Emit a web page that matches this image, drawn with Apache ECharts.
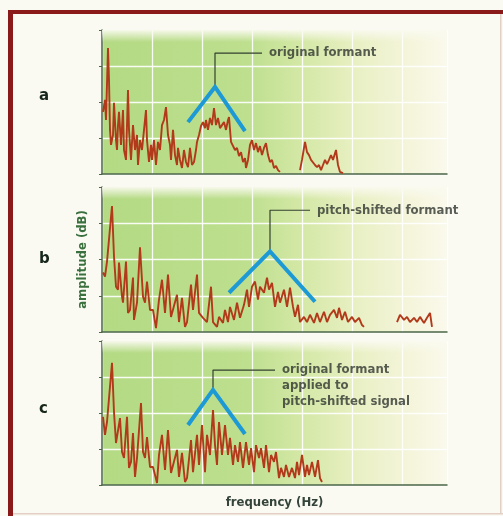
<!DOCTYPE html>
<html><head><meta charset="utf-8">
<script src="https://cdn.jsdelivr.net/npm/echarts@6/dist/echarts.min.js"></script>
<style>html,body{margin:0;padding:0;background:#fbfaf2;}#c{width:503px;height:516px;}</style>
</head><body><div id="c"></div>
<script>
// ---- data (frequency in Hz, amplitude in dB) ----
const panelLabels = ['a', 'b', 'c'];
const yAxisName = 'amplitude (dB)';
const xAxisName = 'frequency (Hz)';
const annotA = 'original formant';
const annotB = 'pitch-shifted formant';
const annotC = 'original formant\napplied to\npitch-shifted signal';

const freqA = [10,30,40,60,70,80,90,110,120,140,150,160,170,190,210,220,240,260,270,290,310,330,350,360,380,400,420,440,450,470,490,500,520,540,560,580,600,620,640,660,680,690,710,730,750,760,780,800,820,840,860,880,900,920,940,950,970,990,1010,1030,1040,1060,1080,1100,1120,1140,1160,1180,1200,1220,1240,1260,1270,1290,1310,1330,1350,1370,1390,1410,1430,1440,1460,1480,1500,1520,1540,1560,1580,1600,1620,1640,1660,1680,1700,1720,1740,1760,1780,1880,1980,2000,2030,2050,2070,2090,2110,2130,2150,2170,2190,2210,2230,2250,2270,2290,2310,2340,2360,2380,2410];
const ampA  = [20.7,24.7,18,42,31.3,14.7,9.7,13,23.7,11.3,8,16.3,20.7,9.7,21.3,8,4.7,28,14.7,4.7,16.3,8,13,3,11.3,8,14.7,21.3,11.3,4,9.7,4.7,11.3,3,10.7,8,16.3,18,22.3,13,9.7,4.7,14.7,6.3,3,8.7,4.7,2,8,4,2.3,8.7,3,4,8,10.7,13,16,17.3,15.3,18,14.7,18.7,16.3,22,16.3,18.7,15.3,16.3,17.3,14.7,18,19,10.7,11.3,8,8.7,6,7.3,4,5.3,2,4.7,9.7,11.3,8,10.3,7.3,9.3,6.3,8.7,10.3,6.3,4,4.7,2,2.7,1.3,0.7,null,1.3,4.7,10.7,7.3,6.3,4.7,5.3,3,2.3,3,1.3,3,4.7,3.3,4.7,6.3,4.7,8,3,0.7,0.3];

const freqB = [10,30,50,100,120,140,160,170,200,210,240,260,280,310,320,350,380,410,430,450,480,510,540,570,600,630,660,690,710,750,770,800,830,850,890,910,950,970,1010,1050,1090,1110,1150,1170,1210,1230,1260,1280,1320,1350,1380,1420,1450,1470,1500,1530,1560,1580,1620,1650,1670,1700,1730,1760,1780,1820,1850,1880,1910,1930,1960,1980,2020,2050,2080,2120,2150,2180,2220,2250,2280,2320,2350,2370,2400,2430,2460,2500,2530,2570,2600,2620,2800,2950,2980,3020,3050,3080,3120,3150,3180,3220,3250,3280,3300];
const ampB  = [19.7,18.3,23.3,41.7,25,15,14,23,11.7,9.7,23.3,6.3,7.3,18,4,9.7,28,11.7,9.7,16.7,7.3,7.3,1.3,10.7,17.3,6.3,19,5,5,12.3,3.3,11.3,1.7,3.3,15.7,7.3,19,6.3,4.7,3.3,15,3.3,1.7,5,3,7.3,3.3,8.3,4,9.7,4.7,9,14,8.3,15,16.7,10.7,15,13,18,14,16.3,8.3,13.3,9.7,14,8.3,14.7,8.3,5,9,3.3,5,3.3,5.7,3,6.3,3.3,6.7,3.3,5.7,7.3,4.7,8,4,6.7,3.3,5,3.3,4.7,2.3,1.7,null,3.3,5.7,4,5,3.3,4.7,3.3,5,3,4.7,6.3,1.7];

const freqC = [10,30,50,100,120,140,160,180,200,220,250,270,290,310,330,350,390,410,430,450,480,510,550,570,600,630,660,690,710,750,770,800,830,850,890,910,950,970,1000,1030,1050,1080,1110,1130,1150,1170,1200,1230,1260,1280,1310,1330,1360,1380,1410,1440,1470,1490,1520,1540,1570,1590,1620,1640,1670,1690,1720,1740,1770,1790,1820,1840,1870,1900,1930,1950,1970,2000,2030,2050,2070,2100,2130,2160,2180,2200];
const ampC  = [22.7,16.7,21,40.7,24.3,14,14.3,22.3,11,9,22.7,5.7,7.7,17.3,2.7,9,27.3,11,9,16,6,6,0.7,10,16.7,5,18.3,4,4,11.7,2.7,10.7,1,2.3,15,4.3,16.7,6.7,20,4.3,16.7,10,25,13.3,6.7,21,10,20,10,15.7,6.7,13.3,7.7,14.3,5.7,14.3,6.7,12.3,4.3,13.3,9,12.3,5.7,13.3,4.3,10,7.7,11,2.3,5.7,2.7,6.7,2.7,5.7,2.3,7.7,3.3,10,2.7,6.7,3.3,7.7,2.7,8.3,2.3,1];

// formant envelopes (inverted V) : [left, apex, right]
const formantA = [[860,17.3],[1130,29],[1430,14.3]];
const formantB = [[1270,13],[1680,26.7],[2130,10]];
const formantC = [[860,20],[1110,31.7],[1430,17]];
// annotation leaders: apex -> up -> right
const leaderA = [[1130,29],[1130,40.3],[1600,40.3]];
const leaderB = [[1680,26.7],[1680,40.3],[2080,40.3]];
const leaderC = [[1110,31.7],[1110,38.3],[1730,38.3]];

// ---- chart ----
const zip = (xs, ys) => xs.map((x, i) => [x, ys[i]]);
const chart = echarts.init(document.getElementById('c'), null, {renderer: 'canvas'});
const grids = [
  {left: 102, top: 30, width: 345, height: 144},
  {left: 102, top: 187, width: 345, height: 145},
  {left: 102, top: 341, width: 345, height: 144}
];
const bgGrad = new echarts.graphic.LinearGradient(0, 0, 1, 0, [
  {offset: 0, color: '#b4da84'},
  {offset: 0.42, color: '#bddf8e'},
  {offset: 0.58, color: '#d4e8a6'},
  {offset: 0.74, color: '#e9f0c4'},
  {offset: 0.9, color: '#f5f5dc'},
  {offset: 1, color: '#faf9ec'}
]);
const axisCol = '#4a6645';
const font = '"DejaVu Sans Condensed", "DejaVu Sans", sans-serif';
const specs = [
  {f: freqA, a: ampA, form: formantA, lead: leaderA, txt: annotA},
  {f: freqB, a: ampB, form: formantB, lead: leaderB, txt: annotB},
  {f: freqC, a: ampC, form: formantC, lead: leaderC, txt: annotC}
];
const xAxes = [], yAxes = [], series = [];
specs.forEach((s, i) => {
  xAxes.push({
    gridIndex: i, type: 'value', min: 0, max: 3450, interval: 500,
    axisLine: {show: true, lineStyle: {color: axisCol, width: 1.5}},
    axisTick: {show: false}, axisLabel: {show: false},
    splitLine: {show: true, lineStyle: {color: '#ffffff', width: 1.3, opacity: 0.9}},
    name: i === 2 ? xAxisName : '', nameLocation: 'middle', nameGap: 11,
    nameTextStyle: {color: '#34443a', fontWeight: 'bold', fontSize: 13, fontFamily: font}
  });
  yAxes.push({
    gridIndex: i, type: 'value', min: 0, max: 48, interval: 12,
    axisLine: {show: true, lineStyle: {color: axisCol, width: 1.5}},
    axisTick: {show: true, length: 3, lineStyle: {color: axisCol}}, axisLabel: {show: false},
    splitLine: {show: true, showMaxLine: false, lineStyle: {color: '#ffffff', width: 1.3, opacity: 0.9}},
    name: i === 1 ? yAxisName : '', nameLocation: 'middle', nameGap: 13, nameRotate: 90,
    nameTextStyle: {color: '#3a703d', fontWeight: 'bold', fontSize: 13, fontFamily: font}
  });
  series.push({
    type: 'line', xAxisIndex: i, yAxisIndex: i, data: zip(s.f, s.a), symbol: 'none',
    connectNulls: false, z: 5,
    lineStyle: {color: '#b23a1b', width: 1.9}, animation: false
  });
  series.push({
    type: 'line', xAxisIndex: i, yAxisIndex: i, data: s.lead, symbol: 'none', z: 6,
    lineStyle: {color: '#33402f', width: 1.2}, animation: false
  });
  series.push({
    type: 'line', xAxisIndex: i, yAxisIndex: i, data: s.form, symbol: 'none', z: 7,
    lineStyle: {color: '#1d9ad6', width: 4, cap: 'butt', join: 'miter'}, animation: false
  });
  series.push({
    type: 'scatter', xAxisIndex: i, yAxisIndex: i, data: [s.lead[2]], symbolSize: 0, z: 8,
    silent: true, animation: false,
    label: {show: true, position: 'right', distance: 7, formatter: s.txt,
      color: '#2f362f', fontSize: 13, fontWeight: 'bold', fontFamily: font, lineHeight: 16,
      align: 'left', verticalAlign: 'top', offset: [0, -8]}
  });
});
const graphics = [
  {type: 'rect', shape: {x: 8, y: 10, width: 5, height: 506}, style: {fill: '#8a1a1a'}, z: 10},
  {type: 'rect', shape: {x: 8, y: 10, width: 495, height: 4}, style: {fill: '#8a1a1a'}, z: 10},
  {type: 'rect', shape: {x: 500, y: 14, width: 1.5, height: 500}, style: {fill: '#e3cfc6'}, z: 10},
  {type: 'rect', shape: {x: 13, y: 513, width: 490, height: 1.5}, style: {fill: '#e3cfc6'}, z: 10}
];
grids.forEach(g => {
  graphics.push({type: 'rect', silent: true, z: 1,
    shape: {x: g.left, y: g.top, width: g.width, height: 12},
    style: {fill: new echarts.graphic.LinearGradient(0, 0, 0, 1, [
      {offset: 0, color: 'rgba(250,250,240,0.95)'}, {offset: 1, color: 'rgba(250,250,240,0)'}])}
  });
});
const labelTops = [89, 252, 402];
panelLabels.forEach((t, i) => {
  graphics.push({type: 'text', x: 39, y: labelTops[i], z: 10,
    style: {text: t, fill: '#17271c', font: 'bold 15px "DejaVu Sans", sans-serif'}});
});
chart.setOption({
  backgroundColor: '#fbfaf2',
  animation: false,
  grid: grids.map(g => Object.assign({show: true, borderWidth: 0, backgroundColor: bgGrad}, g)),
  xAxis: xAxes, yAxis: yAxes, series: series, graphic: graphics
});
</script></body></html>
